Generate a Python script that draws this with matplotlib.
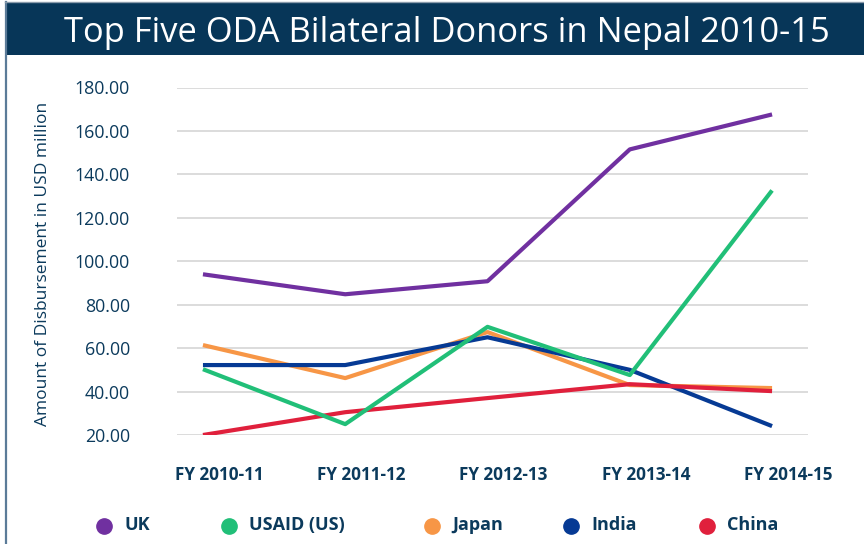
import matplotlib
matplotlib.use("Agg")
import matplotlib.pyplot as plt
from matplotlib.lines import Line2D
from matplotlib.patches import Rectangle

years = ["FY 2010-11", "FY 2011-12", "FY 2012-13", "FY 2013-14", "FY 2014-15"]
uk = [94.0, 84.8, 90.8, 151.5, 167.6]
usaid = [50.3, 25.0, 69.8, 47.6, 132.6]
japan = [61.4, 46.2, 67.4, 43.0, 41.6]
india = [52.2, 52.2, 65.0, 50.0, 24.1]
china = [20.0, 30.5, 37.0, 43.4, 40.2]
y_ticks = [20, 40, 60, 80, 100, 120, 140, 160, 180]

series = [
    ("UK", uk, "#7030a0", 2),
    ("USAID (US)", usaid, "#21bf78", 5),
    ("Japan", japan, "#f79646", 3),
    ("India", india, "#063a94", 4),
    ("China", china, "#e0203c", 4.5),
]

navy = "#0b3a5c"
plt.rcParams["font.family"] = ["Open Sans", "DejaVu Sans"]

fig = plt.figure(figsize=(8.64, 5.44), dpi=100)
W, H = 864, 544

# frame and title banner
fig.add_artist(Line2D([6 / W, 6 / W], [0, 1 - 2 / H], transform=fig.transFigure,
                      color="#5b7b98", lw=1.6))
fig.add_artist(Line2D([5 / W, 1], [1 - 1.5 / H, 1 - 1.5 / H], transform=fig.transFigure,
                      color="#8a9bab", lw=1.0))
fig.add_artist(Rectangle((6 / W, 1 - 55 / H), 858 / W, 53 / H, transform=fig.transFigure,
                         facecolor="#073658", edgecolor="none"))
fig.text(447 / W, 1 - 33 / H, "Top Five ODA Bilateral Donors in Nepal 2010-15",
         color="white", fontsize=24.8, ha="center", va="center")

ax = fig.add_axes([177 / W, 1 - 435 / H, (808 - 177) / W, (435 - 87.5) / H])
x = list(range(len(years)))
for name, vals, color, z in series:
    ax.plot(x, vals, color=color, lw=3.0, solid_capstyle="butt", zorder=z)

ax.set_ylim(20, 180)
ax.set_xlim(-26 / 142.5, 4 + 36 / 142.5)
ax.set_yticks(y_ticks)
ax.set_yticklabels([f"{v:.2f}" for v in y_ticks])
ax.yaxis.grid(True, color="#d9d9d9", lw=1.3, zorder=0)
ax.set_axisbelow(True)
for s in ax.spines.values():
    s.set_visible(False)
ax.tick_params(axis="y", length=0, pad=34, labelsize=12.8, labelcolor=navy)
ax.tick_params(axis="x", length=0, pad=22, labelsize=12.3, labelcolor=navy)
# category labels sit slightly right of each data point
ax.set_xticks([i + 16 / 142.5 for i in x])
ax.set_xticklabels(years, fontweight="bold")

fig.text(43 / W, 1 - 264 / H, "Amount of Disbursement in USD million", rotation=90,
         ha="center", va="center", fontsize=12.5, color=navy)

# legend row
legend_x = [104, 229, 432, 571, 707]
for (name, vals, color, z), lx in zip(series, legend_x):
    fig.add_artist(Line2D([lx / W], [1 - 526 / H], transform=fig.transFigure, marker="o",
                          markersize=11, color=color, lw=0))
    fig.text((lx + 20) / W, 1 - 525 / H, name, ha="left", va="center", fontsize=13,
             fontweight="bold", color=navy)

fig.savefig("out.png", dpi=100)
